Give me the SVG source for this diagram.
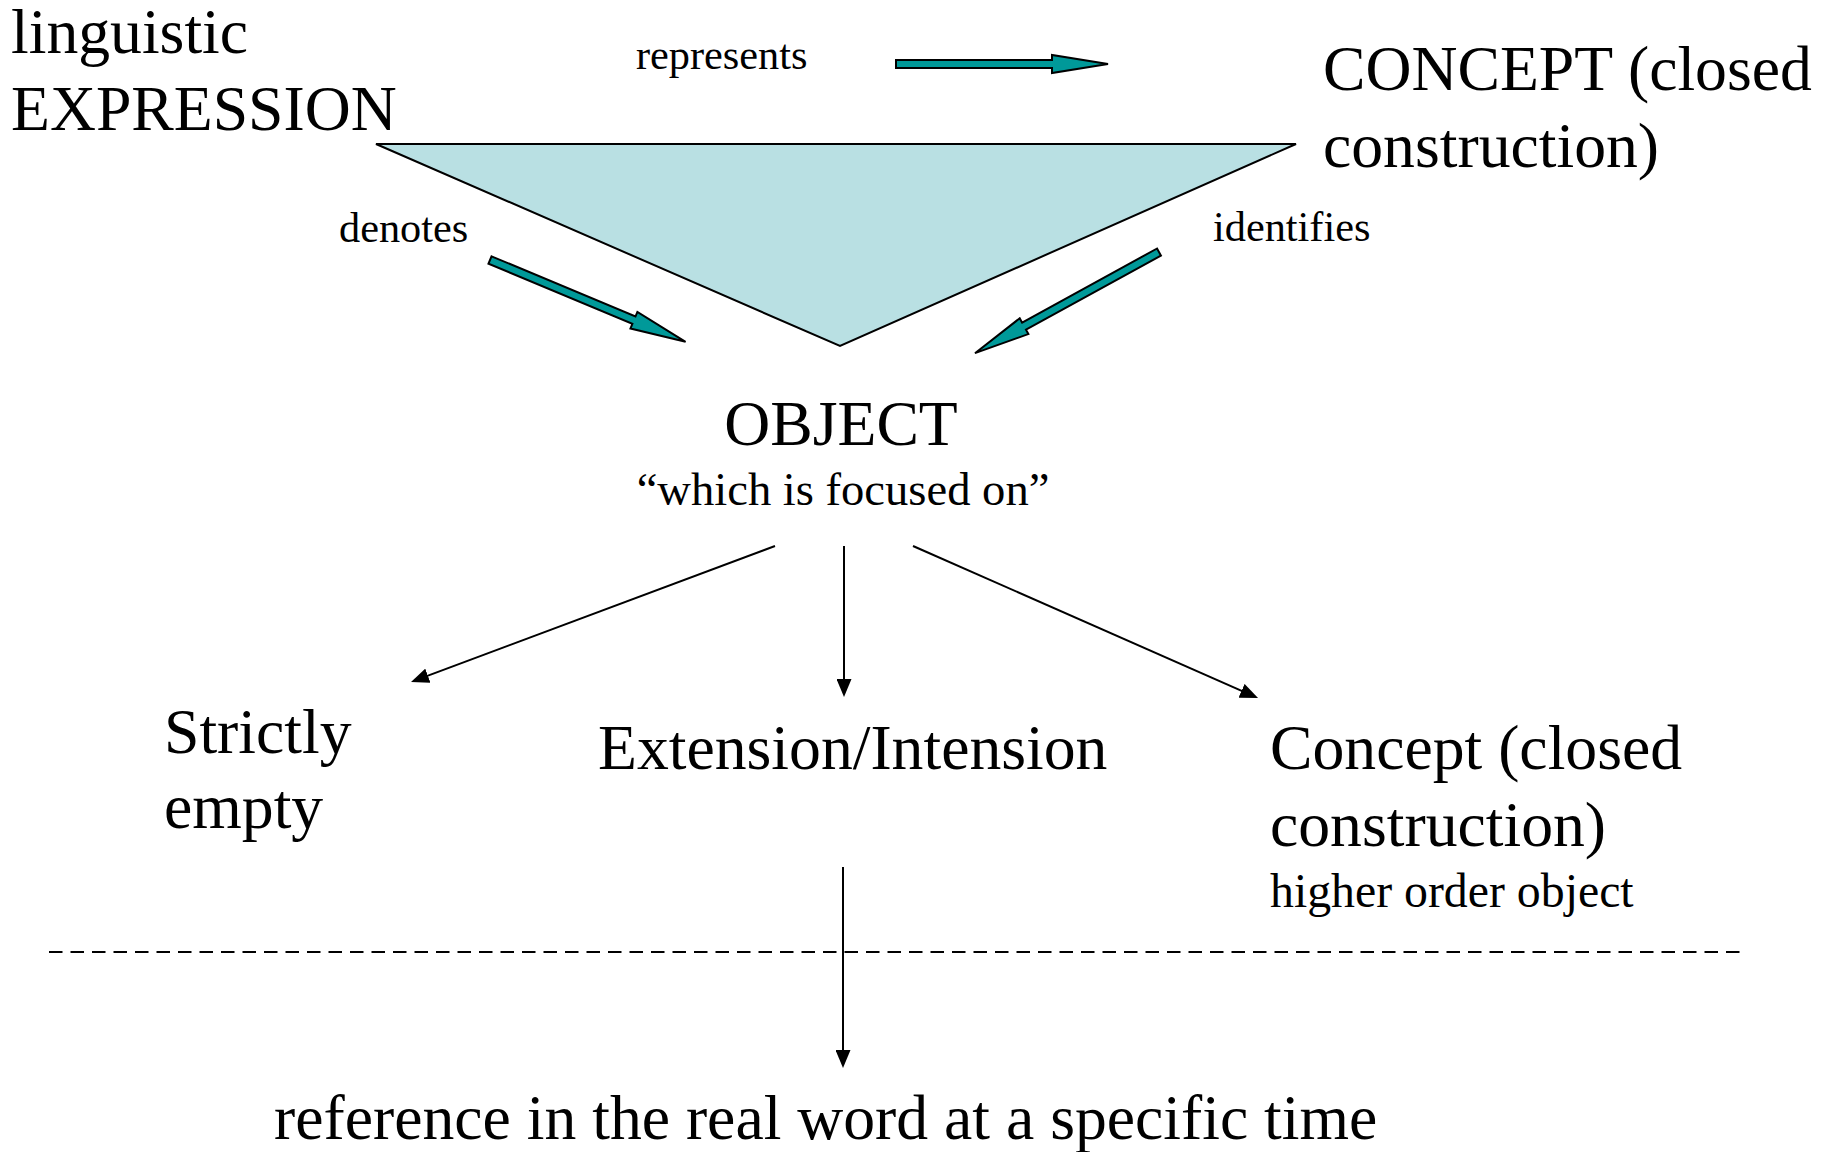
<svg xmlns="http://www.w3.org/2000/svg" width="1831" height="1152" viewBox="0 0 1831 1152">
<defs>
<style>
text{font-family:"Liberation Serif","Times New Roman",serif;fill:#000}
.big{font-size:63.7px}
.lbl{font-size:42.3px}
.sm{font-size:47.8px}
.block{fill:#009999;stroke:#000;stroke-width:2;stroke-linejoin:miter}
.thin{stroke:#000;stroke-width:2;fill:none}
</style>
<marker id="ah" viewBox="0 0 18 15" refX="2" refY="7.5" markerWidth="18" markerHeight="15" markerUnits="userSpaceOnUse" orient="auto">
<path d="M0,0 L18,7.5 L0,15 z" fill="#000"/>
</marker>
</defs>
<rect width="1831" height="1152" fill="#fff"/>
<g id="triangle">
<polygon points="376,144 1296,144 840,346" fill="#B9E0E3" stroke="#000" stroke-width="2"/>
</g>
<g id="expression">
<text class="big" x="11" y="53">linguistic</text>
<text class="big" x="11" y="130">EXPRESSION</text>
</g>
<g id="concept">
<text class="big" x="1323" y="90">CONCEPT (closed</text>
<text class="big" x="1323" y="167">construction)</text>
</g>
<g id="object">
<text class="big" x="841" y="445" text-anchor="middle">OBJECT</text>
<text x="843" y="505" text-anchor="middle" font-size="46.6">“which is focused on”</text>
</g>
<g id="strictly-empty">
<text class="big" x="164" y="753">Strictly</text>
<text class="big" x="164" y="828">empty</text>
</g>
<g id="extension-intension">
<text class="big" x="598" y="769">Extension/Intension</text>
</g>
<g id="concept-closed">
<text class="big" x="1270" y="769">Concept (closed</text>
<text class="big" x="1270" y="846">construction)</text>
<text class="sm" x="1270" y="907">higher order object</text>
</g>
<g id="reference">
<text class="big" x="274" y="1139">reference in the real word at a specific time</text>
</g>
<g id="separator">
<line x1="49" y1="952" x2="1743" y2="952" stroke="#000" stroke-width="2" stroke-dasharray="13.5 8"/>
</g>
<g id="connectors">
<g id="represents">
<path class="block" transform="translate(896,64)" d="M0,-4 L156,-4 L156,-9 L212,0 L156,9 L156,4 L0,4 z"/>
<text class="lbl" x="636" y="69">represents</text>
</g>
<g id="denotes">
<path class="block" transform="translate(490,260) rotate(22.7)" d="M0,-4 L156,-4 L156,-9 L212,0 L156,9 L156,4 L0,4 z"/>
<text class="lbl" x="339" y="242">denotes</text>
</g>
<g id="identifies">
<path class="block" transform="translate(1159,252) rotate(151.2)" d="M0,-4 L154,-4 L154,-9 L210,0 L154,9 L154,4 L0,4 z"/>
<text class="lbl" x="1213" y="241">identifies</text>
</g>
<line class="thin" x1="775" y1="546" x2="426" y2="676.4" marker-end="url(#ah)"/>
<line class="thin" x1="844" y1="546" x2="844" y2="681" marker-end="url(#ah)"/>
<line class="thin" x1="913" y1="546" x2="1243.4" y2="691.6" marker-end="url(#ah)"/>
<line class="thin" x1="843" y1="867" x2="843" y2="1052" stroke-width="1.5" marker-end="url(#ah)"/>
</g>
</svg>
